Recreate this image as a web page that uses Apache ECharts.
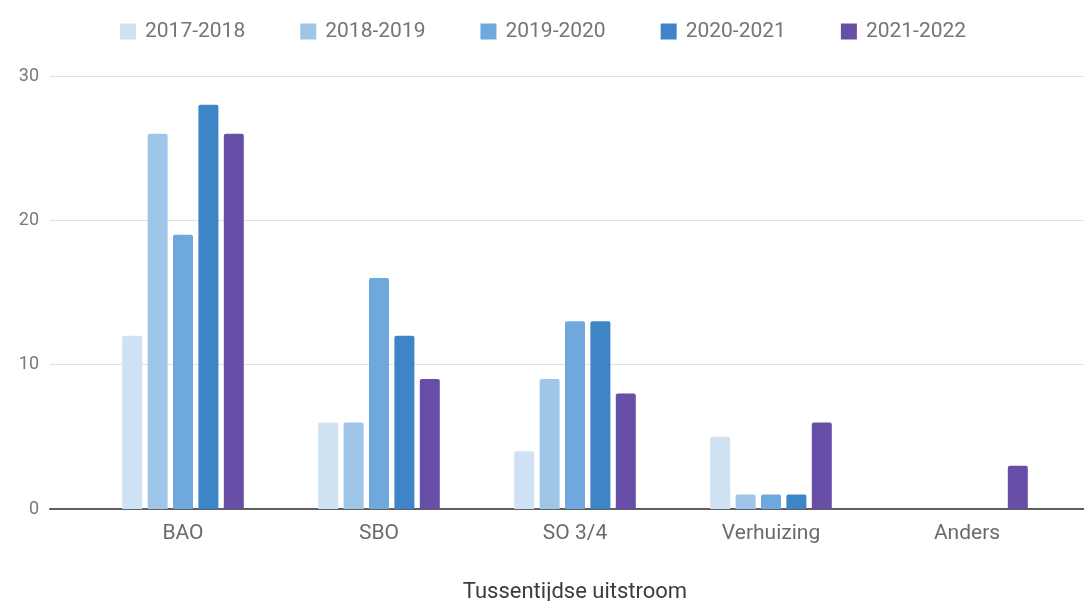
<!DOCTYPE html>
<html><head><meta charset="utf-8">
<script src="https://cdn.jsdelivr.net/npm/echarts@6/dist/echarts.min.js"></script>
<style>html,body{margin:0;padding:0;background:#fff}#c{width:1084px;height:601px}</style>
</head><body><div id="c"></div>
<script>
const categories = ['BAO', 'SBO', 'SO 3/4', 'Verhuizing', 'Anders'];
const seriesNames = ['2017-2018', '2018-2019', '2019-2020', '2020-2021', '2021-2022'];
const v2017 = [12, 6, 4, 5, 0];
const v2018 = [26, 6, 9, 1, 0];
const v2019 = [19, 16, 13, 1, 0];
const v2020 = [28, 12, 13, 1, 0];
const v2021 = [26, 9, 8, 6, 3];
const yTicks = [0, 10, 20, 30];
const xTitle = 'Tussentijdse uitstroom';

const values = [v2017, v2018, v2019, v2020, v2021];
const colors = ['#cfe2f3', '#9fc5e8', '#6fa8dc', '#3d85c6', '#674ea7'];
const font = 'Roboto, "Noto Sans", sans-serif';

const chart = echarts.init(document.getElementById('c'));
chart.setOption({
  animation: false,
  color: colors,
  legend: {
    data: seriesNames,
    left: 115, top: 16,
    itemWidth: 16, itemHeight: 16, itemGap: 55,
    icon: 'rect',
    textStyle: { color: '#757575', fontSize: 21, fontFamily: font, padding: [0, 0, 0, 4] }
  },
  grid: [
    { left: 50, right: 0, top: 76, bottom: 92, containLabel: false, outerBoundsMode: 'none' },
    { left: 85, right: 19, top: 76, bottom: 92, containLabel: false, outerBoundsMode: 'none' }
  ],
  xAxis: [
    { gridIndex: 0, type: 'value', min: 0, max: 1,
      axisLine: { show: true, lineStyle: { color: '#5f5f5f', width: 2 } },
      axisTick: { show: false }, axisLabel: { show: false }, splitLine: { show: false } },
    { gridIndex: 1, type: 'category', data: categories,
      axisLine: { show: false }, axisTick: { show: false },
      axisLabel: { color: '#6a6a6a', fontSize: 21, fontFamily: font, margin: 14 },
      name: xTitle, nameLocation: 'middle', nameGap: 72,
      nameTextStyle: { color: '#3c3c3c', fontSize: 22, fontFamily: font } }
  ],
  yAxis: [
    { gridIndex: 0, type: 'value', min: yTicks[0], max: yTicks[yTicks.length - 1], interval: 10,
      axisLine: { show: false }, axisTick: { show: false },
      axisLabel: { color: '#7a7a7a', fontSize: 18, fontFamily: font, margin: 11 },
      splitLine: { lineStyle: { color: '#e0e0e0', width: 1 } } },
    { gridIndex: 1, type: 'value', min: yTicks[0], max: yTicks[yTicks.length - 1], show: false }
  ],
  series: seriesNames.map((n, i) => ({
    name: n, type: 'bar', xAxisIndex: 1, yAxisIndex: 1,
    data: values[i], barWidth: 20, barGap: '27%',
    itemStyle: { color: colors[i], borderRadius: [2, 2, 0, 0] }
  }))
});
</script></body></html>
